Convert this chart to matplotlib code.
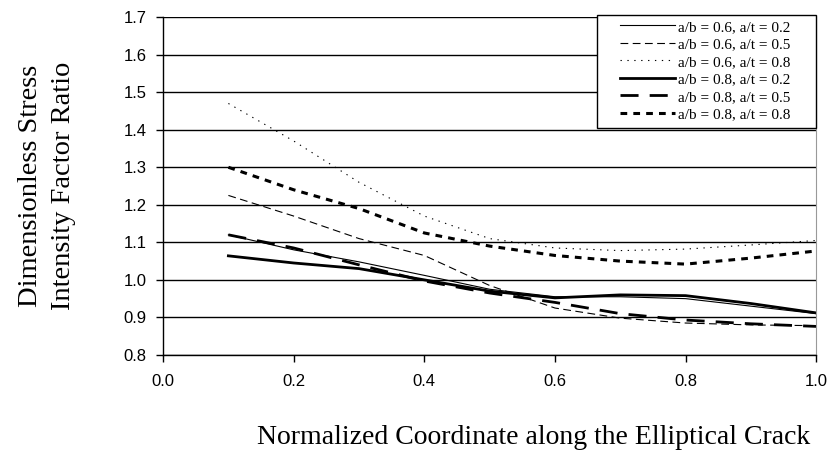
import matplotlib
matplotlib.use("Agg")
import matplotlib.pyplot as plt
from matplotlib.patches import Rectangle

# Coordenada normalizada ao longo da trinca
x = [0.1, 0.2, 0.3, 0.4, 0.5, 0.6, 0.7, 0.8, 0.9, 1.0]

k_06_02 = [1.12, 1.08, 1.048, 1.012, 0.975, 0.955, 0.955, 0.95, 0.93, 0.91]
k_06_05 = [1.225, 1.17, 1.11, 1.065, 0.985, 0.925, 0.898, 0.885, 0.88, 0.878]
k_06_08 = [1.47, 1.37, 1.26, 1.17, 1.11, 1.085, 1.078, 1.082, 1.093, 1.105]
k_08_02 = [1.064, 1.045, 1.03, 1.0, 0.97, 0.952, 0.96, 0.958, 0.937, 0.912]
k_08_05 = [1.12, 1.085, 1.04, 0.997, 0.965, 0.94, 0.91, 0.893, 0.883, 0.876]
k_08_08 = [1.30, 1.24, 1.19, 1.125, 1.09, 1.065, 1.05, 1.042, 1.058, 1.077]

labels = ["a/b = 0.6, a/t = 0.2", "a/b = 0.6, a/t = 0.5", "a/b = 0.6, a/t = 0.8",
          "a/b = 0.8, a/t = 0.2", "a/b = 0.8, a/t = 0.5", "a/b = 0.8, a/t = 0.8"]

x_ticks = [0.0, 0.2, 0.4, 0.6, 0.8, 1.0]
y_ticks = [0.8, 0.9, 1.0, 1.1, 1.2, 1.3, 1.4, 1.5, 1.6, 1.7]

fig = plt.figure(figsize=(8.32, 4.51), dpi=100)
ax = fig.add_axes([0.196, 0.213, 0.785, 0.749])

for yv in y_ticks:
    ax.axhline(yv, color="black", lw=1.0, zorder=1)

ax.plot(x, k_06_02, color="black", lw=0.8, label=labels[0])
ax.plot(x, k_06_05, color="black", lw=0.8, dashes=(7, 4), label=labels[1])
ax.plot(x, k_06_08, color="black", lw=0.8, dashes=(1.2, 5), label=labels[2])
ax.plot(x, k_08_02, color="black", lw=2.0, label=labels[3])
ax.plot(x, k_08_05, color="black", lw=2.0, dashes=(6.5, 4), label=labels[4])
ax.plot(x, k_08_08, color="black", lw=2.2, dashes=(2.2, 2.0), label=labels[5])

ax.set_xlim(0.0, 1.0)
ax.set_ylim(0.8, 1.7)
ax.set_xticks(x_ticks)
ax.set_xticklabels([f"{v:.1f}" for v in x_ticks])
ax.set_yticks(y_ticks)
ax.set_yticklabels([f"{v:.1f}" for v in y_ticks])
ax.tick_params(direction="out", length=5, width=1, colors="black", labelsize=12)
ax.tick_params(axis="y", pad=7)
ax.tick_params(axis="x", pad=9)
for lab in ax.get_xticklabels() + ax.get_yticklabels():
    lab.set_fontfamily("Liberation Sans")

ax.spines["top"].set_visible(False)
ax.spines["right"].set_color("#999999")
ax.spines["left"].set_linewidth(1.0)
ax.spines["bottom"].set_linewidth(1.0)

ax.set_xlabel("Normalized Coordinate along the Elliptical Crack",
              fontfamily="Liberation Serif", fontsize=20, va="center")
ax.xaxis.set_label_coords(0.567, -0.243)
ax.set_ylabel("Dimensionless Stress\nIntensity Factor Ratio",
              fontfamily="Liberation Serif", fontsize=20.5, linespacing=1.4, va="center")
ax.yaxis.set_label_coords(-0.178, 0.5)

# Legenda sem moldura + caixa desenhada a parte (padding assimetrico como no Excel)
leg = fig.legend(loc="upper right", bbox_to_anchor=(790 / 832, 1 - 20 / 451), frameon=False,
                 prop={"family": "Liberation Serif", "size": 11}, handlelength=3.6,
                 handletextpad=0.15, labelspacing=0.25, borderpad=0, borderaxespad=0)
fig.add_artist(Rectangle((597 / 832, 1 - 128 / 451), 219 / 832, 113 / 451,
                         transform=fig.transFigure, facecolor="white",
                         edgecolor="black", lw=1.0, zorder=4))
leg.set_zorder(5)

fig.savefig("out.png", dpi=100)
